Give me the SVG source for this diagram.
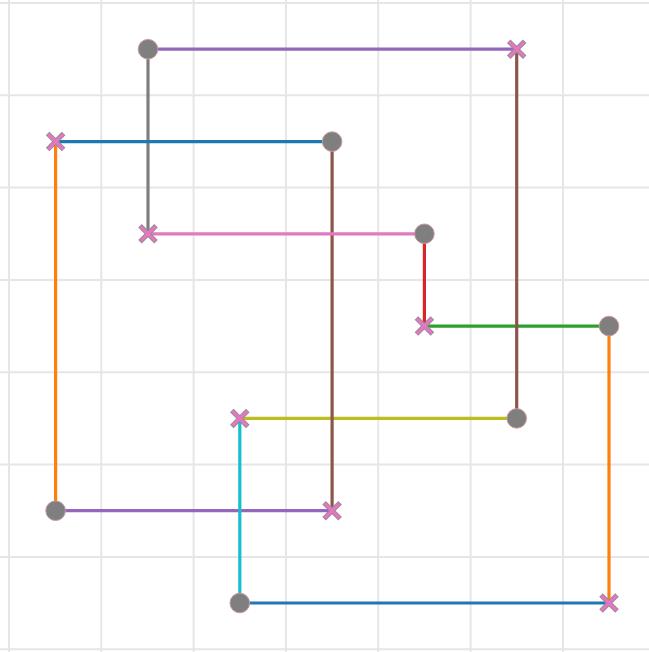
<svg xmlns="http://www.w3.org/2000/svg" width="649" height="652" viewBox="0 0 649 652">
<defs>
<style>
.grid line{stroke:#e6e6e6;stroke-width:2}
.e{stroke-width:3.2;fill:none;stroke-linecap:butt}
.dot{fill:#7f7f7f;stroke:#c89a9a;stroke-width:1}
.xo{stroke:#9a8a92;stroke-width:5;stroke-linecap:butt}
.xi{stroke:#e377c2;stroke-width:3;stroke-linecap:butt}
</style>
<g id="xm"><path class="xo" d="M-8,-8L8,8M-8,8L8,-8"/><path class="xi" d="M-7.5,-7.5L7.5,7.5M-7.5,7.5L7.5,-7.5"/></g>
</defs>
<rect width="649" height="652" fill="#fff"/>
<g class="grid">
<line x1="9" y1="0" x2="9" y2="652"/>
<line x1="101.3" y1="0" x2="101.3" y2="652"/>
<line x1="193.6" y1="0" x2="193.6" y2="652"/>
<line x1="286" y1="0" x2="286" y2="652"/>
<line x1="378.2" y1="0" x2="378.2" y2="652"/>
<line x1="470.6" y1="0" x2="470.6" y2="652"/>
<line x1="563" y1="0" x2="563" y2="652"/>
<line x1="0" y1="3" x2="649" y2="3"/>
<line x1="0" y1="95.3" x2="649" y2="95.3"/>
<line x1="0" y1="187.6" x2="649" y2="187.6"/>
<line x1="0" y1="280" x2="649" y2="280"/>
<line x1="0" y1="372.2" x2="649" y2="372.2"/>
<line x1="0" y1="464.6" x2="649" y2="464.6"/>
<line x1="0" y1="557" x2="649" y2="557"/>
<line x1="0" y1="649.3" x2="649" y2="649.3"/>
</g>
<g id="connectors">
<line class="e" stroke="#9467bd" x1="148" y1="49.2" x2="516.7" y2="49.2"/>
<line class="e" stroke="#7f7f7f" x1="148" y1="49.2" x2="148" y2="233.8"/>
<line class="e" stroke="#1f77b4" x1="55.6" y1="141.6" x2="332.1" y2="141.6"/>
<line class="e" stroke="#ff7f0e" x1="55.6" y1="141.6" x2="55.6" y2="510.7"/>
<line class="e" stroke="#2ca02c" x1="424.4" y1="326.1" x2="609" y2="326.1"/>
<line class="e" stroke="#8c564b" x1="516.7" y1="49.2" x2="516.7" y2="418.4"/>
<line class="e" stroke="#bcbd22" x1="239.8" y1="418.4" x2="516.7" y2="418.4"/>
<line class="e" stroke="#8c564b" x1="332.1" y1="141.6" x2="332.1" y2="510.7"/>
<line class="e" stroke="#e377c2" x1="148" y1="233.8" x2="424.4" y2="233.8"/>
<line class="e" stroke="#d62728" x1="424.4" y1="233.8" x2="424.4" y2="326.1"/>
<line class="e" stroke="#ff7f0e" x1="609" y1="326.1" x2="609" y2="603"/>
<line class="e" stroke="#9467bd" x1="55.6" y1="510.7" x2="332.1" y2="510.7"/>
<line class="e" stroke="#17becf" x1="239.8" y1="418.4" x2="239.8" y2="603"/>
<line class="e" stroke="#1f77b4" x1="239.8" y1="603" x2="609" y2="603"/>
</g>
<g id="n1"><circle class="dot" cx="148" cy="49.2" r="9.8"/></g>
<g id="n2"><use href="#xm" x="516.7" y="49.2"/></g>
<g id="n3"><use href="#xm" x="55.6" y="141.6"/></g>
<g id="n4"><circle class="dot" cx="332.1" cy="141.6" r="9.8"/></g>
<g id="n5"><use href="#xm" x="148" y="233.8"/></g>
<g id="n6"><circle class="dot" cx="424.4" cy="233.8" r="9.8"/></g>
<g id="n7"><use href="#xm" x="424.4" y="326.1"/></g>
<g id="n8"><circle class="dot" cx="609" cy="326.1" r="9.8"/></g>
<g id="n9"><use href="#xm" x="239.8" y="418.4"/></g>
<g id="n10"><circle class="dot" cx="516.7" cy="418.4" r="9.8"/></g>
<g id="n11"><circle class="dot" cx="55.6" cy="510.7" r="9.8"/></g>
<g id="n12"><use href="#xm" x="332.1" y="510.7"/></g>
<g id="n13"><circle class="dot" cx="239.8" cy="603" r="9.8"/></g>
<g id="n14"><use href="#xm" x="609" y="603"/></g>
</svg>
